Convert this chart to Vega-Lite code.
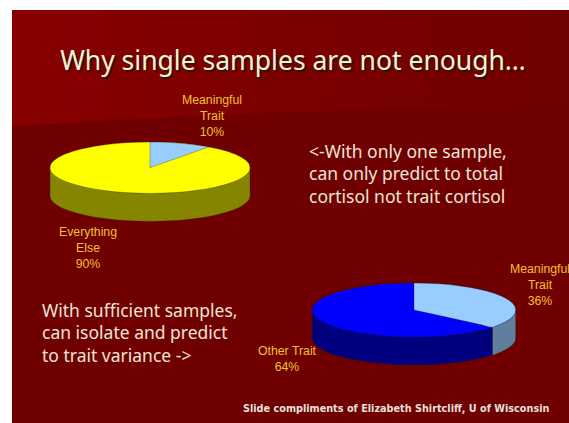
{
  "$schema": "https://vega.github.io/schema/vega-lite/v6.json",
  "width": 557,
  "height": 413,
  "padding": {"left": 12, "top": 10, "right": 0, "bottom": 0},
  "autosize": "none",
  "background": "#ffffff",
  "view": {"stroke": null, "fill": "#700000"},
  "datasets": {
    "backdrop": [
      {"x": 0, "top": 0, "ridge": 116},
      {"x": 140, "top": 0, "ridge": 108},
      {"x": 273, "top": 0, "ridge": 102},
      {"x": 400, "top": 0, "ridge": 98},
      {"x": 557, "top": 0, "ridge": 92}
    ],
    "surfaces": [
      {"surface": "Everything Else wall", "pie": 1, "part": "wall", "x": 38, "y": 157.7, "y2": 185.7},
      {"surface": "Everything Else wall", "pie": 1, "part": "wall", "x": 38.5, "y": 157.7, "y2": 188.27},
      {"surface": "Everything Else wall", "pie": 1, "part": "wall", "x": 40, "y": 157.7, "y2": 190.81},
      {"surface": "Everything Else wall", "pie": 1, "part": "wall", "x": 43, "y": 157.7, "y2": 193.72},
      {"surface": "Everything Else wall", "pie": 1, "part": "wall", "x": 48, "y": 157.7, "y2": 196.9},
      {"surface": "Everything Else wall", "pie": 1, "part": "wall", "x": 58, "y": 157.7, "y2": 201.1},
      {"surface": "Everything Else wall", "pie": 1, "part": "wall", "x": 73, "y": 157.7, "y2": 205.2},
      {"surface": "Everything Else wall", "pie": 1, "part": "wall", "x": 93, "y": 157.7, "y2": 208.6},
      {"surface": "Everything Else wall", "pie": 1, "part": "wall", "x": 113, "y": 157.7, "y2": 210.6},
      {"surface": "Everything Else wall", "pie": 1, "part": "wall", "x": 138, "y": 157.7, "y2": 211.4},
      {"surface": "Everything Else wall", "pie": 1, "part": "wall", "x": 163, "y": 157.7, "y2": 210.6},
      {"surface": "Everything Else wall", "pie": 1, "part": "wall", "x": 183, "y": 157.7, "y2": 208.6},
      {"surface": "Everything Else wall", "pie": 1, "part": "wall", "x": 203, "y": 157.7, "y2": 205.2},
      {"surface": "Everything Else wall", "pie": 1, "part": "wall", "x": 218, "y": 157.7, "y2": 201.1},
      {"surface": "Everything Else wall", "pie": 1, "part": "wall", "x": 228, "y": 157.7, "y2": 196.9},
      {"surface": "Everything Else wall", "pie": 1, "part": "wall", "x": 233, "y": 157.7, "y2": 193.72},
      {"surface": "Everything Else wall", "pie": 1, "part": "wall", "x": 236, "y": 157.7, "y2": 190.81},
      {"surface": "Everything Else wall", "pie": 1, "part": "wall", "x": 237.5, "y": 157.7, "y2": 188.27},
      {"surface": "Everything Else wall", "pie": 1, "part": "wall", "x": 238, "y": 157.7, "y2": 185.7},

      {"surface": "Other Trait wall", "pie": 2, "part": "wall", "x": 300.3, "y": 300, "y2": 328},
      {"surface": "Other Trait wall", "pie": 2, "part": "wall", "x": 300.8, "y": 300, "y2": 330.7},
      {"surface": "Other Trait wall", "pie": 2, "part": "wall", "x": 302.3, "y": 300, "y2": 333.37},
      {"surface": "Other Trait wall", "pie": 2, "part": "wall", "x": 305.4, "y": 300, "y2": 336.42},
      {"surface": "Other Trait wall", "pie": 2, "part": "wall", "x": 310.5, "y": 300, "y2": 339.77},
      {"surface": "Other Trait wall", "pie": 2, "part": "wall", "x": 320.6, "y": 300, "y2": 344.2},
      {"surface": "Other Trait wall", "pie": 2, "part": "wall", "x": 335.9, "y": 300, "y2": 348.52},
      {"surface": "Other Trait wall", "pie": 2, "part": "wall", "x": 356.2, "y": 300, "y2": 352.11},
      {"surface": "Other Trait wall", "pie": 2, "part": "wall", "x": 376.6, "y": 300, "y2": 354.14},
      {"surface": "Other Trait wall", "pie": 2, "part": "wall", "x": 402, "y": 300, "y2": 355},
      {"surface": "Other Trait wall", "pie": 2, "part": "wall", "x": 427.4, "y": 300, "y2": 354.14},
      {"surface": "Other Trait wall", "pie": 2, "part": "wall", "x": 447.8, "y": 300, "y2": 352.11},
      {"surface": "Other Trait wall", "pie": 2, "part": "wall", "x": 468.1, "y": 300, "y2": 348.52},
      {"surface": "Other Trait wall", "pie": 2, "part": "wall", "x": 480.5, "y": 300, "y2": 345.2},

      {"surface": "Meaningful Trait 36% wall", "pie": 2, "part": "wall", "x": 480.5, "y": 300, "y2": 345.2},
      {"surface": "Meaningful Trait 36% wall", "pie": 2, "part": "wall", "x": 483.4, "y": 300, "y2": 344.2},
      {"surface": "Meaningful Trait 36% wall", "pie": 2, "part": "wall", "x": 493.5, "y": 300, "y2": 339.77},
      {"surface": "Meaningful Trait 36% wall", "pie": 2, "part": "wall", "x": 498.6, "y": 300, "y2": 336.42},
      {"surface": "Meaningful Trait 36% wall", "pie": 2, "part": "wall", "x": 501.7, "y": 300, "y2": 333.37},
      {"surface": "Meaningful Trait 36% wall", "pie": 2, "part": "wall", "x": 503.2, "y": 300, "y2": 330.7},
      {"surface": "Meaningful Trait 36% wall", "pie": 2, "part": "wall", "x": 503.7, "y": 300, "y2": 328},

      {"surface": "Everything Else 90%", "pie": 1, "part": "top", "x": 38, "y": 157.7, "y2": 157.7},
      {"surface": "Everything Else 90%", "pie": 1, "part": "top", "x": 38.5, "y": 155.13, "y2": 160.27},
      {"surface": "Everything Else 90%", "pie": 1, "part": "top", "x": 40, "y": 152.59, "y2": 162.81},
      {"surface": "Everything Else 90%", "pie": 1, "part": "top", "x": 43, "y": 149.68, "y2": 165.72},
      {"surface": "Everything Else 90%", "pie": 1, "part": "top", "x": 48, "y": 146.5, "y2": 168.9},
      {"surface": "Everything Else 90%", "pie": 1, "part": "top", "x": 58, "y": 142.3, "y2": 173.1},
      {"surface": "Everything Else 90%", "pie": 1, "part": "top", "x": 73, "y": 138.2, "y2": 177.2},
      {"surface": "Everything Else 90%", "pie": 1, "part": "top", "x": 93, "y": 134.8, "y2": 180.6},
      {"surface": "Everything Else 90%", "pie": 1, "part": "top", "x": 113, "y": 132.8, "y2": 182.6},
      {"surface": "Everything Else 90%", "pie": 1, "part": "top", "x": 138, "y": 132, "y2": 183.4},
      {"surface": "Everything Else 90%", "pie": 1, "part": "top", "x": 163, "y": 132.8, "y2": 182.6},
      {"surface": "Everything Else 90%", "pie": 1, "part": "top", "x": 183, "y": 134.8, "y2": 180.6},
      {"surface": "Everything Else 90%", "pie": 1, "part": "top", "x": 203, "y": 138.2, "y2": 177.2},
      {"surface": "Everything Else 90%", "pie": 1, "part": "top", "x": 218, "y": 142.3, "y2": 173.1},
      {"surface": "Everything Else 90%", "pie": 1, "part": "top", "x": 228, "y": 146.5, "y2": 168.9},
      {"surface": "Everything Else 90%", "pie": 1, "part": "top", "x": 233, "y": 149.68, "y2": 165.72},
      {"surface": "Everything Else 90%", "pie": 1, "part": "top", "x": 236, "y": 152.59, "y2": 162.81},
      {"surface": "Everything Else 90%", "pie": 1, "part": "top", "x": 237.5, "y": 155.13, "y2": 160.27},
      {"surface": "Everything Else 90%", "pie": 1, "part": "top", "x": 238, "y": 157.7, "y2": 157.7},

      {"surface": "Meaningful Trait 10%", "pie": 1, "part": "top", "x": 138, "y": 132, "y2": 157.7},
      {"surface": "Meaningful Trait 10%", "pie": 1, "part": "top", "x": 150, "y": 132.2, "y2": 153.45},
      {"surface": "Meaningful Trait 10%", "pie": 1, "part": "top", "x": 165, "y": 132.95, "y2": 148.15},
      {"surface": "Meaningful Trait 10%", "pie": 1, "part": "top", "x": 180, "y": 134.4, "y2": 142.84},
      {"surface": "Meaningful Trait 10%", "pie": 1, "part": "top", "x": 196.8, "y": 136.9, "y2": 136.9},

      {"surface": "Other Trait 64%", "pie": 2, "part": "top", "x": 300.3, "y": 300, "y2": 300},
      {"surface": "Other Trait 64%", "pie": 2, "part": "top", "x": 300.8, "y": 297.3, "y2": 302.7},
      {"surface": "Other Trait 64%", "pie": 2, "part": "top", "x": 302.3, "y": 294.63, "y2": 305.37},
      {"surface": "Other Trait 64%", "pie": 2, "part": "top", "x": 305.4, "y": 291.58, "y2": 308.42},
      {"surface": "Other Trait 64%", "pie": 2, "part": "top", "x": 310.5, "y": 288.23, "y2": 311.77},
      {"surface": "Other Trait 64%", "pie": 2, "part": "top", "x": 320.6, "y": 283.8, "y2": 316.2},
      {"surface": "Other Trait 64%", "pie": 2, "part": "top", "x": 335.9, "y": 279.48, "y2": 320.52},
      {"surface": "Other Trait 64%", "pie": 2, "part": "top", "x": 356.2, "y": 275.89, "y2": 324.11},
      {"surface": "Other Trait 64%", "pie": 2, "part": "top", "x": 376.6, "y": 273.86, "y2": 326.14},
      {"surface": "Other Trait 64%", "pie": 2, "part": "top", "x": 402, "y": 273, "y2": 327},
      {"surface": "Other Trait 64%", "pie": 2, "part": "top", "x": 427.4, "y": 273.86, "y2": 326.14},
      {"surface": "Other Trait 64%", "pie": 2, "part": "top", "x": 447.8, "y": 275.89, "y2": 324.11},
      {"surface": "Other Trait 64%", "pie": 2, "part": "top", "x": 468.1, "y": 279.48, "y2": 320.52},
      {"surface": "Other Trait 64%", "pie": 2, "part": "top", "x": 483.4, "y": 283.8, "y2": 316.2},
      {"surface": "Other Trait 64%", "pie": 2, "part": "top", "x": 493.5, "y": 288.23, "y2": 311.77},
      {"surface": "Other Trait 64%", "pie": 2, "part": "top", "x": 498.6, "y": 291.58, "y2": 308.42},
      {"surface": "Other Trait 64%", "pie": 2, "part": "top", "x": 501.7, "y": 294.63, "y2": 305.37},
      {"surface": "Other Trait 64%", "pie": 2, "part": "top", "x": 503.2, "y": 297.3, "y2": 302.7},
      {"surface": "Other Trait 64%", "pie": 2, "part": "top", "x": 503.7, "y": 300, "y2": 300},

      {"surface": "Meaningful Trait 36%", "pie": 2, "part": "top", "x": 402, "y": 273, "y2": 300},
      {"surface": "Meaningful Trait 36%", "pie": 2, "part": "top", "x": 427.4, "y": 273.86, "y2": 305.57},
      {"surface": "Meaningful Trait 36%", "pie": 2, "part": "top", "x": 447.8, "y": 275.89, "y2": 310.03},
      {"surface": "Meaningful Trait 36%", "pie": 2, "part": "top", "x": 468.1, "y": 279.48, "y2": 314.48},
      {"surface": "Meaningful Trait 36%", "pie": 2, "part": "top", "x": 480.5, "y": 282.83, "y2": 317.2},
      {"surface": "Meaningful Trait 36%", "pie": 2, "part": "top", "x": 483.4, "y": 283.8, "y2": 316.2},
      {"surface": "Meaningful Trait 36%", "pie": 2, "part": "top", "x": 493.5, "y": 288.23, "y2": 311.77},
      {"surface": "Meaningful Trait 36%", "pie": 2, "part": "top", "x": 498.6, "y": 291.58, "y2": 308.42},
      {"surface": "Meaningful Trait 36%", "pie": 2, "part": "top", "x": 501.7, "y": 294.63, "y2": 305.37},
      {"surface": "Meaningful Trait 36%", "pie": 2, "part": "top", "x": 503.2, "y": 297.3, "y2": 302.7},
      {"surface": "Meaningful Trait 36%", "pie": 2, "part": "top", "x": 503.7, "y": 300, "y2": 300}
    ],
    "sliceLabels": [
      {"text": "Meaningful\nTrait\n10%", "x": 200, "y": 84},
      {"text": "Everything\nElse\n90%", "x": 76, "y": 216},
      {"text": "Meaningful\nTrait\n36%", "x": 528, "y": 253},
      {"text": "Other Trait\n64%", "x": 275, "y": 335}
    ],
    "notes": [
      {"text": "<-With only one sample,\ncan only predict to total\ncortisol not trait cortisol", "x": 297, "y": 134},
      {"text": "With sufficient samples,\ncan isolate and predict\nto trait variance ->", "x": 30, "y": 293}
    ],
    "title": [{"text": "Why single samples are not enough…", "x": 281, "y": 52}],
    "credit": [{"text": "Slide compliments of Elizabeth Shirtcliff, U of Wisconsin", "x": 231, "y": 399}]
  },
  "encoding": {
    "x": {"field": "x", "type": "quantitative", "axis": null, "scale": {"domain": [0, 557], "nice": false, "zero": false}},
    "y": {"field": "y", "type": "quantitative", "axis": null, "scale": {"domain": [413, 0], "nice": false, "zero": false}}
  },
  "layer": [
    {
      "data": {"name": "backdrop"},
      "mark": {
        "type": "area",
        "fill": {
          "x1": 0, "y1": 0, "x2": 1, "y2": 0, "gradient": "linear",
          "stops": [{"offset": 0, "color": "#880000"}, {"offset": 0.55, "color": "#7a0000"}, {"offset": 1, "color": "#700000"}]
        }
      },
      "encoding": {"y": {"field": "ridge", "type": "quantitative"}, "y2": {"field": "top"}}
    },
    {
      "data": {"name": "surfaces"},
      "transform": [{"filter": "datum.part === 'wall'"}],
      "mark": {"type": "area", "interpolate": "monotone", "stroke": "#201808", "strokeWidth": 0.5, "strokeOpacity": 0.6},
      "encoding": {
        "y2": {"field": "y2"},
        "fill": {
          "field": "surface", "type": "nominal", "legend": null,
          "scale": {
            "domain": ["Everything Else wall", "Other Trait wall", "Meaningful Trait 36% wall", "Everything Else 90%", "Meaningful Trait 10%", "Other Trait 64%", "Meaningful Trait 36%"],
            "range": ["#858500", "#00007f", "#5f7f9f", "#ffff00", "#99ccff", "#0000ff", "#99ccff"]
          }
        }
      }
    },
    {
      "data": {"name": "surfaces"},
      "transform": [{"filter": "datum.part === 'top'"}],
      "mark": {"type": "area", "interpolate": "monotone", "stroke": "#201808", "strokeWidth": 0.5, "strokeOpacity": 0.6},
      "encoding": {
        "y2": {"field": "y2"},
        "fill": {"field": "surface", "type": "nominal", "legend": null}
      }
    },
    {
      "data": {"name": "sliceLabels"},
      "mark": {"type": "text", "font": "Liberation Sans", "fontSize": 12.3, "lineBreak": "\n", "lineHeight": 16, "align": "center", "baseline": "top", "color": "#f0c030"},
      "encoding": {"text": {"field": "text"}}
    },
    {
      "data": {"name": "notes"},
      "mark": {"type": "text", "font": "Noto Sans", "fontSize": 17.5, "lineBreak": "\n", "lineHeight": 22.3, "align": "left", "baseline": "top", "color": "#ece4d4"},
      "encoding": {"text": {"field": "text"}}
    },
    {
      "data": {"name": "title"},
      "mark": {"type": "text", "font": "Noto Sans", "fontSize": 26.5, "align": "center", "baseline": "middle", "color": "#2a1500", "dx": 1.5, "dy": 1.5},
      "encoding": {"text": {"field": "text"}}
    },
    {
      "data": {"name": "title"},
      "mark": {"type": "text", "font": "Noto Sans", "fontSize": 26.5, "align": "center", "baseline": "middle", "color": "#f6f0d8"},
      "encoding": {"text": {"field": "text"}}
    },
    {
      "data": {"name": "credit"},
      "mark": {"type": "text", "font": "DejaVu Sans", "fontSize": 9.7, "fontWeight": "bold", "align": "left", "baseline": "middle", "color": "#e6e0dc"},
      "encoding": {"text": {"field": "text"}}
    }
  ]
}
